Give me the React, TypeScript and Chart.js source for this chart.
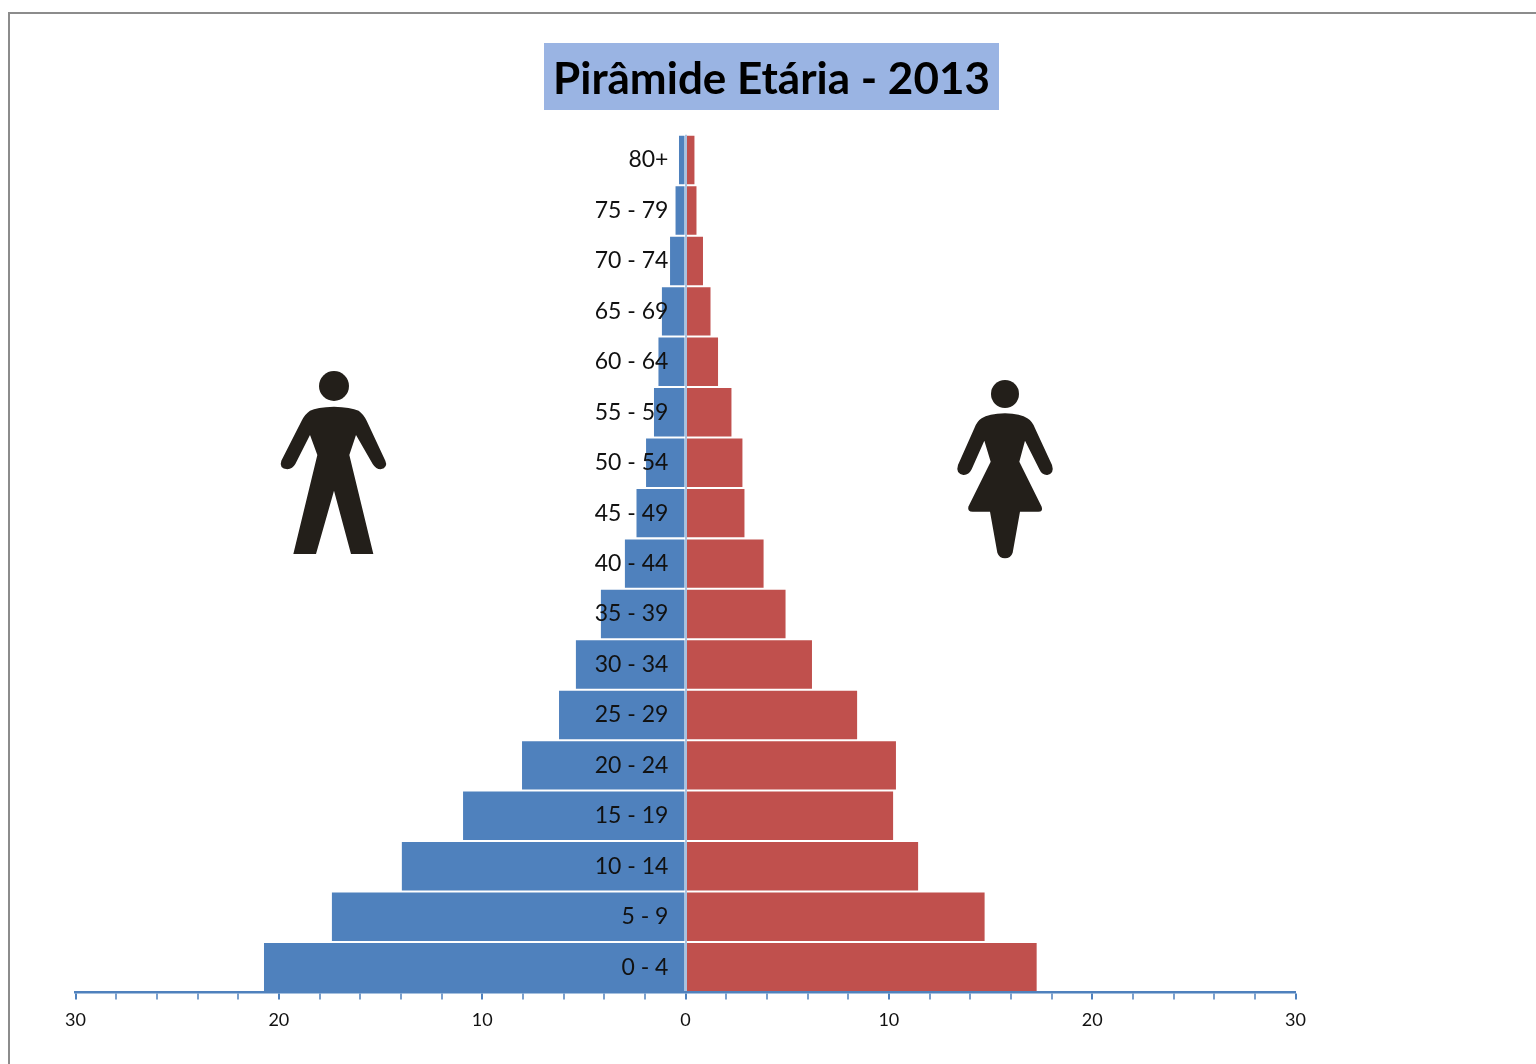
import React, { useEffect, useRef } from "react";
import { Chart, registerables } from "chart.js";

Chart.register(...registerables);

const TITLE = "Pirâmide Etária - 2013";
const AGE_GROUPS = ["80+", "75 - 79", "70 - 74", "65 - 69", "60 - 64", "55 - 59", "50 - 54", "45 - 49", "40 - 44", "35 - 39", "30 - 34", "25 - 29", "20 - 24", "15 - 19", "10 - 14", "5 - 9", "0 - 4"];
const MALE = [-0.32, -0.49, -0.76, -1.16, -1.33, -1.55, -1.94, -2.41, -2.98, -4.16, -5.39, -6.22, -8.04, -10.94, -13.95, -17.39, -20.73];
const FEMALE = [0.44, 0.54, 0.86, 1.23, 1.6, 2.26, 2.8, 2.9, 3.84, 4.92, 6.22, 8.44, 10.35, 10.21, 11.44, 14.71, 17.27];

const FIGURE = "#231f1a";

function manPath(c: CanvasRenderingContext2D) {
  c.save();
  c.translate(260, 360);
  c.scale(1 / 3, 1 / 3);
  c.fillStyle = FIGURE;
  c.beginPath();
  c.arc(222, 78, 45, 0, Math.PI * 2);
  c.fill();
  c.beginPath();
  c.moveTo(222, 140);
  c.quadraticCurveTo(170, 142, 150, 152);
  c.quadraticCurveTo(135, 162, 125, 182);
  c.lineTo(64, 302);
  c.quadraticCurveTo(56, 325, 82, 328);
  c.quadraticCurveTo(98, 326, 106, 312);
  c.lineTo(150, 225);
  c.lineTo(172, 285);
  c.lineTo(100, 582);
  c.lineTo(168, 582);
  c.lineTo(222, 392);
  c.lineTo(273, 582);
  c.lineTo(340, 582);
  c.lineTo(268, 285);
  c.lineTo(288, 225);
  c.lineTo(338, 312);
  c.quadraticCurveTo(348, 328, 362, 328);
  c.quadraticCurveTo(385, 322, 376, 302);
  c.lineTo(320, 182);
  c.quadraticCurveTo(310, 162, 296, 152);
  c.quadraticCurveTo(272, 142, 222, 140);
  c.closePath();
  c.fill();
  c.restore();
}

function womanPath(c: CanvasRenderingContext2D) {
  c.save();
  c.translate(940, 370);
  c.scale(1 / 3, 1 / 3);
  c.fillStyle = FIGURE;
  c.beginPath();
  c.arc(195, 72, 42, 0, Math.PI * 2);
  c.fill();
  c.beginPath();
  c.moveTo(195, 130);
  c.quadraticCurveTo(145, 132, 125, 145);
  c.quadraticCurveTo(110, 155, 103, 175);
  c.lineTo(54, 285);
  c.quadraticCurveTo(46, 310, 70, 315);
  c.quadraticCurveTo(86, 316, 95, 298);
  c.lineTo(133, 212);
  c.lineTo(152, 275);
  c.lineTo(85, 410);
  c.quadraticCurveTo(82, 425, 98, 425);
  c.lineTo(150, 425);
  c.lineTo(172, 548);
  c.quadraticCurveTo(178, 565, 195, 565);
  c.quadraticCurveTo(212, 565, 218, 548);
  c.lineTo(240, 425);
  c.lineTo(295, 425);
  c.quadraticCurveTo(310, 425, 305, 410);
  c.lineTo(238, 275);
  c.lineTo(255, 212);
  c.lineTo(298, 298);
  c.quadraticCurveTo(306, 316, 322, 315);
  c.quadraticCurveTo(344, 310, 336, 285);
  c.lineTo(285, 175);
  c.quadraticCurveTo(278, 155, 262, 145);
  c.quadraticCurveTo(243, 132, 195, 130);
  c.closePath();
  c.fill();
  c.restore();
}

const decor = {
  id: "decor",
  afterLayout(chart: any) {
    // the title sits over the banner, not over the plot
    const t = chart.titleBlock;
    const shift = 771.5 - (t.left + t.right) / 2;
    t.left += shift;
    t.right += shift;
  },
  beforeDraw(chart: any) {
    const c = chart.ctx;
    c.save();
    c.fillStyle = "#ffffff";
    c.fillRect(0, 0, chart.width, chart.height);
    c.fillStyle = "#8c8c8c";
    c.fillRect(8, 12, 1536, 2);
    c.fillRect(8, 12, 2, 1064);
    c.fillStyle = "#9ab4e3";
    c.fillRect(544, 43, 455, 67);
    manPath(c);
    womanPath(c);
    c.restore();
  },
};

export default function App() {
  const ref = useRef<HTMLCanvasElement>(null);
  useEffect(() => {
    const chart = new Chart(ref.current!, {
      type: "bar",
      plugins: [decor],
      data: {
        labels: AGE_GROUPS,
        datasets: [
          { label: "Homens", data: MALE, backgroundColor: "#4f81bd" },
          { label: "Mulheres", data: FEMALE, backgroundColor: "#c0504d" },
        ],
      },
      options: {
        indexAxis: "y",
        responsive: false,
        animation: false,
        barPercentage: 0.96,
        categoryPercentage: 1,
        layout: { padding: { left: 75.5, right: 240.5, top: 53, bottom: 23 } },
        plugins: {
          legend: { display: false },
          tooltip: { enabled: false },
          title: {
            display: true,
            text: TITLE,
            color: "#000000",
            font: { family: "Lato", weight: "bold", size: 44, lineHeight: 1.2 },
            padding: { top: 0, bottom: 29 },
          },
        },
        scales: {
          x: {
            type: "linear",
            stacked: true,
            min: -30,
            max: 30,
            border: { display: true, color: "#4f81bd", width: 2.5, z: 1 },
            grid: {
              display: true,
              z: 1,
              drawOnChartArea: true,
              drawTicks: true,
              tickLength: 7,
              color: (ctx: any) => (ctx.tick && ctx.tick.value === 0 ? "#a9c2e0" : "rgba(0,0,0,0)"),
              lineWidth: (ctx: any) => (ctx.tick && ctx.tick.value === 0 ? 2 : 0),
              tickColor: "#4f81bd",
              tickWidth: (ctx: any) => (ctx.tick && ctx.tick.value % 10 === 0 ? 2 : 1.5),
            },
            ticks: {
              stepSize: 2,
              autoSkip: false,
              maxRotation: 0,
              padding: 10,
              color: "#111111",
              font: { family: "Lato", size: 18 },
              callback: (v: any) => (Number(v) % 10 === 0 ? String(Math.abs(Number(v))) : ""),
            },
          },
          y: {
            type: "category",
            stacked: true,
            position: { x: -0.84 },
            border: { display: false },
            grid: { display: false },
            ticks: {
              z: 1,
              autoSkip: false,
              color: "#111111",
              font: { family: "Lato", size: 23 },
            },
          },
        },
      },
    } as any);
    return () => chart.destroy();
  }, []);
  return (
    <canvas
      ref={ref}
      width={1536}
      height={1064}
      style={{ position: "absolute", left: 0, top: 0, display: "block" }}
    />
  );
}
